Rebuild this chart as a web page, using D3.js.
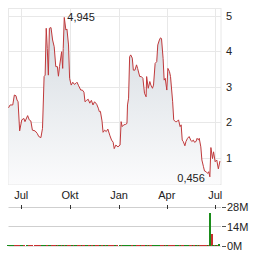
<!DOCTYPE html>
<html>
<head>
<meta charset="utf-8">
<script src="https://cdn.jsdelivr.net/npm/d3@7"></script>
<style>
  body { margin: 0; background: #fff; }
  text { font-family: "Liberation Sans", Arial, sans-serif; font-size: 11px; fill: #222; }
</style>
</head>
<body>
<div id="chart"></div>
<script>
const dates = [
  "2024-06-07","2024-06-10","2024-06-15","2024-06-18","2024-06-21","2024-06-23","2024-06-25","2024-06-28",
  "2024-07-02","2024-07-06","2024-07-08","2024-07-13","2024-07-16","2024-07-19","2024-07-22","2024-07-27","2024-07-31",
  "2024-08-03","2024-08-07","2024-08-10","2024-08-13","2024-08-15","2024-08-17","2024-08-19","2024-08-21","2024-08-23","2024-08-26","2024-08-29",
  "2024-09-01","2024-09-04","2024-09-07","2024-09-09","2024-09-11","2024-09-15","2024-09-17","2024-09-18","2024-09-20","2024-09-23","2024-09-25","2024-09-28","2024-09-30",
  "2024-10-03","2024-10-06","2024-10-09","2024-10-12","2024-10-14","2024-10-17","2024-10-21","2024-10-24","2024-10-27","2024-10-29",
  "2024-11-01","2024-11-04","2024-11-07","2024-11-10","2024-11-13","2024-11-16","2024-11-20","2024-11-23","2024-11-25","2024-11-27","2024-11-30",
  "2024-12-02","2024-12-05","2024-12-08","2024-12-11","2024-12-15","2024-12-18","2024-12-21","2024-12-23","2024-12-26","2024-12-30",
  "2025-01-03","2025-01-05","2025-01-07","2025-01-10","2025-01-13","2025-01-16","2025-01-17","2025-01-19","2025-01-21","2025-01-23","2025-01-26","2025-01-28","2025-01-31",
  "2025-02-03","2025-02-05","2025-02-09","2025-02-12","2025-02-15","2025-02-18","2025-02-21","2025-02-22","2025-02-25","2025-02-28",
  "2025-03-02","2025-03-05","2025-03-07","2025-03-10","2025-03-13","2025-03-15","2025-03-18","2025-03-20","2025-03-22","2025-03-25","2025-03-27","2025-03-29",
  "2025-04-01","2025-04-03","2025-04-06","2025-04-08","2025-04-12","2025-04-14","2025-04-17","2025-04-20","2025-04-23","2025-04-26","2025-04-28","2025-04-30",
  "2025-05-02","2025-05-05","2025-05-07","2025-05-10","2025-05-13","2025-05-16","2025-05-18","2025-05-21","2025-05-23","2025-05-26","2025-05-28","2025-05-31",
  "2025-06-01","2025-06-04","2025-06-06","2025-06-09","2025-06-11","2025-06-14","2025-06-17","2025-06-19","2025-06-21","2025-06-23","2025-06-26","2025-06-28",
  "2025-07-01","2025-07-04","2025-07-07","2025-07-10"
];
const prices = [
  2.40,2.48,2.48,2.76,2.74,2.62,2.57,1.75,
  2.06,2.10,2.01,2.18,2.06,2.03,1.77,1.75,1.68,
  1.59,1.56,1.82,3.28,3.32,4.64,4.07,3.32,4.64,4.66,4.31,
  4.12,3.56,3.56,3.29,3.56,3.98,3.51,4.07,4.945,4.59,4.62,4.17,3.23,
  3.04,3.12,3.06,3.09,3.12,3.02,2.90,2.90,2.84,2.57,
  2.61,2.64,2.53,2.61,2.48,2.57,2.50,2.39,2.29,2.30,2.03,
  1.71,1.77,1.73,1.80,1.61,1.49,1.43,1.25,1.35,1.30,
  1.35,2.01,1.87,1.92,1.93,1.96,2.48,2.67,3.84,3.89,3.80,3.46,3.46,
  3.61,3.51,3.28,3.28,3.23,2.81,2.71,3.28,2.95,3.14,
  3.04,2.95,3.04,3.65,3.70,4.17,4.31,4.37,4.35,3.79,3.18,3.23,
  2.90,3.51,3.42,3.28,2.57,2.06,2.01,2.01,2.06,1.87,1.92,1.49,
  1.45,1.33,1.45,1.54,1.59,1.49,1.45,1.49,1.43,1.45,1.54,1.49,
  1.54,1.30,0.93,0.74,0.62,0.60,0.55,0.60,0.456,1.28,0.97,1.16,
  0.88,0.93,0.68,0.90
];
// volume in millions, one per date
const volumes = [
  0.7,0.6,0.7,0.8,0.7,0.6,0.7,0.8,
  0.7,0.6,0.7,0.7,0.6,0.7,0.8,0.7,0.6,
  0.7,0.6,0.8,0.9,0.8,0.9,0.8,0.7,0.8,0.7,0.7,
  0.7,0.6,0.7,0.7,0.6,0.7,0.7,0.6,0.8,0.7,0.6,0.7,0.7,
  0.6,0.7,0.6,0.7,0.6,0.7,0.6,0.7,0.6,0.7,
  0.6,0.7,0.6,0.7,0.6,0.7,0.6,0.7,0.6,0.7,0.6,
  0.7,0.6,0.7,0.6,0.7,0.6,0.7,0.6,0.7,0.6,
  0.7,0.8,0.7,0.6,0.7,0.6,0.7,0.8,0.9,0.8,0.7,0.6,0.7,
  0.7,0.6,0.7,0.6,0.7,0.6,0.7,0.6,0.7,0.6,
  0.7,0.6,0.7,0.8,0.7,0.8,0.7,0.6,0.7,0.6,0.7,0.6,
  0.7,0.6,0.7,0.6,0.7,0.6,0.7,0.6,0.7,0.6,0.7,0.6,
  0.7,0.6,0.7,0.6,0.7,0.6,0.7,0.6,0.7,0.6,0.7,0.6,
  0.7,0.6,0.7,0.6,0.7,0.6,0.7,0.6,0.7,24.4,9.0,1.2,
  1.0,0.8,0.6,1.7
];
const priceTicks = [1, 2, 3, 4, 5];
const volTicks = [0, 14, 28];
const monthTicks = ["2024-07-01", "2024-10-01", "2025-01-01", "2025-04-01", "2025-07-01"];
const monthLabels = ["Jul", "Okt", "Jan", "Apr", "Jul"];

const parse = d3.timeParse("%Y-%m-%d");
const data = dates.map((d, i) => ({ date: parse(d), price: prices[i], vol: volumes[i],
  up: i === 0 ? true : prices[i] >= prices[i - 1] }));

const width = 264, height = 255;
const plotLeft = 8.5, plotRight = 221, plotTop = 8.5, plotBottom = 184.5;

const x = d3.scaleTime()
  .domain([parse("2024-06-07"), parse("2025-07-12")])
  .range([plotLeft, plotRight]);
const y = d3.scaleLinear().domain([0, 5]).range([193, 15.5]);
const yVol = d3.scaleLinear().domain([0, 28]).range([246.5, 207.5]);

const svg = d3.select("#chart").append("svg")
  .attr("width", width)
  .attr("height", height);

const grad = svg.append("defs").append("linearGradient")
  .attr("id", "fillGrad")
  .attr("gradientUnits", "userSpaceOnUse")
  .attr("x1", 0).attr("y1", plotTop).attr("x2", 0).attr("y2", plotBottom);
grad.append("stop").attr("offset", "0%").attr("stop-color", "#d2d9df");
grad.append("stop").attr("offset", "100%").attr("stop-color", "#fbfbfc");

// grid
const grid = svg.append("g").attr("stroke", "#e8e8e8").attr("stroke-width", 1);
grid.selectAll(".h")
    .data(priceTicks)
  .enter().append("line")
    .attr("x1", plotLeft).attr("x2", plotRight)
    .attr("y1", d => Math.round(y(d)) + 0.5)
    .attr("y2", d => Math.round(y(d)) + 0.5);
grid.selectAll(".v")
    .data(monthTicks)
  .enter().append("line")
    .attr("x1", d => Math.round(x(parse(d))) + 0.5)
    .attr("x2", d => Math.round(x(parse(d))) + 0.5)
    .attr("y1", plotTop).attr("y2", plotBottom);
grid.append("rect")
  .attr("x", plotLeft).attr("y", plotTop)
  .attr("width", plotRight - plotLeft).attr("height", plotBottom - plotTop)
  .attr("fill", "none");

// price area + line
svg.append("path")
  .datum(data)
  .attr("fill", "url(#fillGrad)")
  .attr("d", d3.area()
    .x(d => x(d.date))
    .y0(plotBottom)
    .y1(d => y(d.price)));

svg.append("path")
  .datum(data)
  .attr("fill", "none")
  .attr("stroke", "#c0393b")
  .attr("stroke-width", 1)
  .attr("d", d3.line()
    .x(d => x(d.date))
    .y(d => y(d.price)));

// y labels
svg.selectAll(".ylab")
    .data(priceTicks)
  .enter().append("text")
    .attr("x", 226)
    .attr("y", d => y(d) + 4)
    .text(d => d);

// x labels
svg.selectAll(".xlab")
    .data(monthTicks)
  .enter().append("text")
    .attr("x", d => x(parse(d)))
    .attr("y", 199)
    .attr("text-anchor", "middle")
    .text((d, i) => monthLabels[i]);

// max / min annotations
const maxD = data.reduce((a, b) => b.price > a.price ? b : a);
const minD = data.reduce((a, b) => b.price < a.price ? b : a);
const fmt = v => d3.format(".3f")(v).replace(".", ",");
svg.append("text")
  .attr("x", x(maxD.date) + 3)
  .attr("y", y(maxD.price) + 4)
  .text(fmt(maxD.price));
svg.append("text")
  .attr("x", x(minD.date) - 5)
  .attr("y", y(minD.price) + 5)
  .attr("text-anchor", "end")
  .text(fmt(minD.price));

// volume panel
svg.selectAll(".vgrid")
    .data(volTicks)
  .enter().append("line")
    .attr("x1", plotLeft).attr("x2", plotRight)
    .attr("y1", d => Math.round(yVol(d)) - 0.5)
    .attr("y2", d => Math.round(yVol(d)) - 0.5)
    .attr("stroke", d => d === 0 ? "#e4e4e4" : "#cfcfcf");

svg.selectAll(".mtick")
    .data(monthTicks)
  .enter().append("line")
    .attr("x1", d => Math.round(x(parse(d))) + 0.5)
    .attr("x2", d => Math.round(x(parse(d))) + 0.5)
    .attr("y1", 205).attr("y2", 209)
    .attr("stroke", "#333");

svg.selectAll(".bar")
    .data(data)
  .enter().append("rect")
    .attr("x", d => Math.round(x(d.date) - 1.5))
    .attr("width", 2)
    .attr("y", d => Math.min(Math.round(yVol(d.vol)), 245))
    .attr("height", d => 246 - Math.min(Math.round(yVol(d.vol)), 245))
    .attr("fill", d => d.up ? "#1a8c1a" : "#c8302f");

svg.selectAll(".vtick")
    .data(volTicks)
  .enter().append("line")
    .attr("x1", 222).attr("x2", 226)
    .attr("y1", d => Math.round(yVol(d)) - 0.5)
    .attr("y2", d => Math.round(yVol(d)) - 0.5)
    .attr("stroke", "#555");

svg.selectAll(".vlab")
    .data(volTicks)
  .enter().append("text")
    .attr("x", 227)
    .attr("y", d => yVol(d) + 3.5)
    .text(d => d + "M");
</script>
</body>
</html>
